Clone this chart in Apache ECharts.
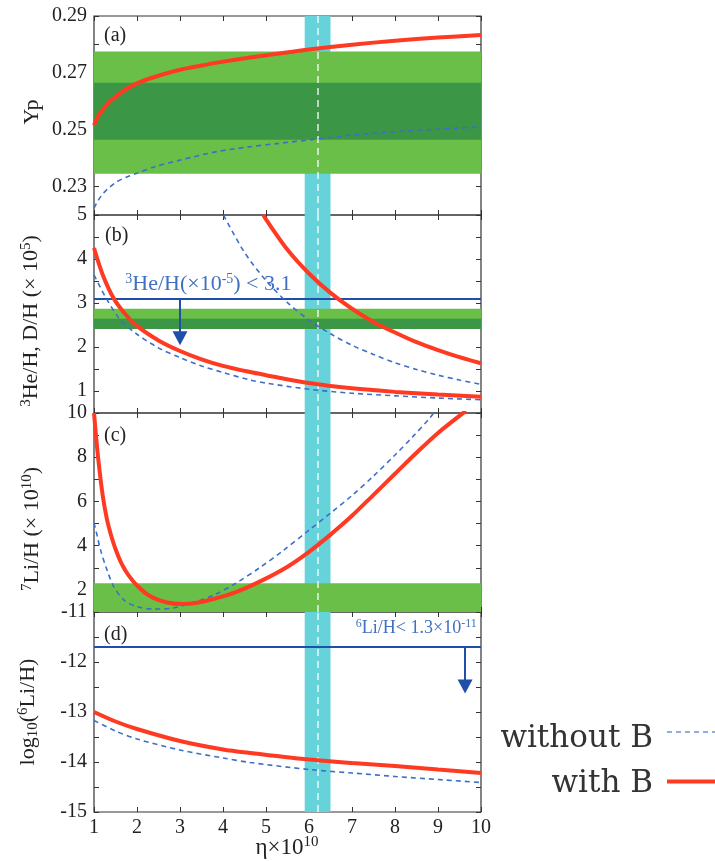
<!DOCTYPE html>
<html>
<head>
<meta charset="utf-8">
<title>BBN</title>
<script src="https://cdn.jsdelivr.net/npm/echarts@6/dist/echarts.min.js"></script>
<style>
html, body {margin: 0; padding: 0; background: #fff;}
#Main {width: 715px; height: 861px;}
</style>
</head>
<body>
<div id="Main"></div>
<script>
// 横轴 η×10^10
var etaMin = 1, etaMax = 10;
var etaBand = [5.9, 6.5];   // 青色观测带
var etaCenter = 6.2;

// (a) Yp
var etaYpB = [1, 1.05, 1.12, 1.22, 1.38, 1.69, 2, 2.46, 3, 3.5, 3.86, 4.63, 5.3, 6, 7, 8, 9, 10];
var ypWithB = [0.2516, 0.2534, 0.2553, 0.2574, 0.2600, 0.2637, 0.2663, 0.2688, 0.2711, 0.2726, 0.2736, 0.2754, 0.2768, 0.2782, 0.2799, 0.2813, 0.2824, 0.2833];
var etaYp = [1, 1.1, 1.22, 1.35, 1.53, 1.75, 2, 2.46, 3, 3.86, 4.63, 5.3, 6, 7, 8, 9, 10];
var ypNoB = [0.2224, 0.2252, 0.2277, 0.2296, 0.2317, 0.2333, 0.2347, 0.2372, 0.2393, 0.2423, 0.2440, 0.2452, 0.2464, 0.2481, 0.2493, 0.2502, 0.2510];
var ypBandOuter = [0.2345, 0.2775];
var ypBandInner = [0.2465, 0.2665];
var ypLabels = ['0.23', '0.25', '0.27', '0.29'];

// (b) 3He/H, D/H
var etaDhB = [4.94, 5, 5.5, 6, 6.5, 7, 7.5, 8, 8.5, 9, 9.5, 10];
var dhWithB = [5, 4.9, 4.21, 3.67, 3.23, 2.87, 2.57, 2.33, 2.11, 1.93, 1.77, 1.63];
var etaDh = [4.01, 4.5, 5, 5.5, 6, 6.5, 7, 7.5, 8, 8.5, 9, 9.5, 10];
var dhNoB = [5, 4.15, 3.51, 3.01, 2.61, 2.30, 2.04, 1.83, 1.64, 1.49, 1.36, 1.25, 1.15];
var etaHeB = [1, 1.2, 1.46, 1.7, 2, 2.5, 3, 3.5, 4, 4.63, 5, 6, 7, 8, 9, 10];
var heWithB = [4.25, 3.65, 3.1, 2.78, 2.48, 2.15, 1.91, 1.72, 1.57, 1.43, 1.36, 1.18, 1.06, 0.98, 0.92, 0.87];
var etaHe = [1, 1.15, 1.3, 1.61, 2, 2.5, 3, 3.5, 4, 4.63, 5, 6, 7, 8, 9, 10];
var heNoB = [3.64, 3.35, 3.08, 2.62, 2.29, 1.98, 1.76, 1.57, 1.42, 1.25, 1.18, 1.04, 0.95, 0.89, 0.84, 0.80];
var dhBandOuter = [2.41, 2.87];
var dhBandInner = [2.41, 2.64];
var heLimit = 3.1;
var heArrow = [3, 2.2];      // 箭头位置 [eta, 终点]
var heText = [3.66, 3.42];
var dhLabels = [1, 2, 3, 4, 5];

// (c) 7Li/H
var etaLiB = [1, 1.05, 1.1, 1.2, 1.3, 1.4, 1.5, 1.65, 1.8, 2, 2.3, 2.7, 3.05, 3.4, 3.8, 4.3, 4.9, 5.5, 6, 6.5, 7, 7.5, 8, 8.5, 9, 9.65];
var liWithB = [10, 8.9, 7.9, 6.3, 5.2, 4.45, 3.85, 3.15, 2.67, 2.2, 1.72, 1.43, 1.36, 1.42, 1.6, 1.9, 2.42, 3.05, 3.72, 4.5, 5.35, 6.3, 7.25, 8.2, 9.1, 10.1];
var etaLi = [1, 1.08, 1.15, 1.3, 1.46, 1.69, 2, 2.4, 2.8, 3.25, 3.8, 4.3, 4.85, 5.4, 6, 6.5, 7, 7.5, 8, 8.4, 8.8, 8.9];
var liNoB = [5.03, 4.4, 3.82, 2.91, 2.15, 1.55, 1.24, 1.13, 1.17, 1.39, 1.78, 2.3, 3.0, 3.78, 4.7, 5.47, 6.27, 7.15, 8.1, 8.9, 9.75, 10.0];
var liBand = [1, 2.3];
var liLabels = [2, 4, 6, 8, 10];

// (d) log10(6Li/H)
var etaLi6 = [1, 1.5, 2, 3, 4, 4.63, 6, 7, 8, 9, 10];
var li6WithB = [-13.0, -13.19, -13.34, -13.58, -13.75, -13.82, -13.95, -14.02, -14.08, -14.15, -14.22];
var li6NoB = [-13.17, -13.38, -13.54, -13.76, -13.92, -14.01, -14.15, -14.22, -14.29, -14.35, -14.41];
var li6Limit = -11.7;
var li6Arrow = [9.63, -12.49];
var li6Text = [9.9, -11.33];
var li6Labels = [-15, -14, -13, -12, -11];

var red = '#ff3a22', blue = '#3d6fc8', lineBlue = '#1f4fa8', textBlue = '#3f6fc2';
var serif = 'Liberation Serif';
var supRich = {
	sup: {fontSize: 15, fontFamily: serif, verticalAlign: 'top', lineHeight: 14},
	sub: {fontSize: 15, fontFamily: serif, verticalAlign: 'bottom', lineHeight: 14}
};

function zip(xs, ys) {
	var arr = [];
	for (var i = 0; i < xs.length; i++) {
		arr.push([xs[i], ys[i]]);
	}
	return arr;
}

// 四个面板的位置
var panels = [
	{top: 16, height: 199, min: 0.22, max: 0.29, interval: 0.01},
	{top: 215, height: 198, min: 0.5, max: 5, interval: 0.5},
	{top: 413, height: 199, min: 1, max: 10, interval: 1},
	{top: 612, height: 200, min: -15, max: -11, interval: 0.5}
];
var labelFns = [
	function(v) { var s = v.toFixed(2); return ypLabels.indexOf(s) >= 0 ? s : ''; },
	function(v) { var r = Math.round(v); return (Math.abs(v - r) < 1e-6 && dhLabels.indexOf(r) >= 0) ? String(r) : ''; },
	function(v) { var r = Math.round(v); return (Math.abs(v - r) < 1e-6 && liLabels.indexOf(r) >= 0) ? String(r) : ''; },
	function(v) { var r = Math.round(v); return (Math.abs(v - r) < 1e-6 && li6Labels.indexOf(r) >= 0) ? String(r) : ''; }
];

var grid = [], xAxis = [], yAxis = [], series = [];
var tickStyle = {show: true, inside: true, length: 5, lineStyle: {color: '#333', width: 1}};

for (var i = 0; i < panels.length; i++) {
	var p = panels[i];
	grid.push({left: 94, top: p.top, width: 387, height: p.height, show: true, borderColor: '#333', borderWidth: 1.2, backgroundColor: 'transparent'});
	xAxis.push({
		type: 'value', gridIndex: i, position: 'bottom', min: etaMin, max: etaMax, interval: 1,
		axisLine: {show: false}, splitLine: {show: false}, axisTick: tickStyle,
		axisLabel: {show: i === 3, margin: 6, color: '#222', fontFamily: serif, fontSize: 20}
	});
	xAxis.push({
		type: 'value', gridIndex: i, position: 'top', min: etaMin, max: etaMax, interval: 1,
		axisLine: {show: false}, splitLine: {show: false}, axisTick: tickStyle, axisLabel: {show: false}
	});
	yAxis.push({
		type: 'value', gridIndex: i, position: 'left', min: p.min, max: p.max, interval: p.interval,
		axisLine: {show: false}, splitLine: {show: false}, axisTick: tickStyle,
		axisLabel: {margin: 7, color: '#222', fontFamily: serif, fontSize: 20, formatter: labelFns[i]}
	});
	yAxis.push({
		type: 'value', gridIndex: i, position: 'right', min: p.min, max: p.max, interval: p.interval,
		axisLine: {show: false}, splitLine: {show: false}, axisTick: tickStyle, axisLabel: {show: false}
	});
	// 青色带 + 白色虚线
	series.push({
		type: 'line', xAxisIndex: 2 * i, yAxisIndex: 2 * i, data: [], z: 3, silent: true,
		markArea: {silent: true, itemStyle: {color: '#66d3da', opacity: 1}, data: [[{xAxis: etaBand[0]}, {xAxis: etaBand[1]}]]},
		markLine: {silent: true, symbol: 'none', label: {show: false},
			lineStyle: {color: 'rgba(255,255,255,0.85)', width: 1.5, type: [7, 5]},
			data: [{xAxis: etaCenter}]}
	});
}

// 绿色观测带
function bandSeries(gi, areas) {
	return {
		type: 'line', xAxisIndex: 2 * gi, yAxisIndex: 2 * gi, data: [], z: 2, silent: true,
		markArea: {silent: true, data: areas}
	};
}
var light = {color: '#6abf48', opacity: 1}, dark = {color: '#3b9645', opacity: 1};
series.push(bandSeries(0, [
	[{yAxis: ypBandOuter[0], itemStyle: light}, {yAxis: ypBandOuter[1]}],
	[{yAxis: ypBandInner[0], itemStyle: dark}, {yAxis: ypBandInner[1]}]
]));
series.push(bandSeries(1, [
	[{yAxis: dhBandOuter[0], itemStyle: light}, {yAxis: dhBandOuter[1]}],
	[{yAxis: dhBandInner[0], itemStyle: dark}, {yAxis: dhBandInner[1]}]
]));
series.push(bandSeries(2, [
	[{yAxis: liBand[0], itemStyle: light}, {yAxis: liBand[1]}]
]));

// 曲线
function curve(name, gi, xs, ys, withB) {
	return {
		name: name, type: 'line', xAxisIndex: 2 * gi, yAxisIndex: 2 * gi,
		data: zip(xs, ys), showSymbol: false, smooth: 0.3, z: withB ? 6 : 5, silent: true,
		lineStyle: withB ? {color: red, width: 4} : {color: blue, width: 1.6, type: [5, 4]}
	};
}
series.push(curve('without B', 0, etaYp, ypNoB, false));
series.push(curve('with B', 0, etaYpB, ypWithB, true));
series.push(curve('without B', 1, etaDh, dhNoB, false));
series.push(curve('without B', 1, etaHe, heNoB, false));
series.push(curve('with B', 1, etaDhB, dhWithB, true));
series.push(curve('with B', 1, etaHeB, heWithB, true));
series.push(curve('without B', 2, etaLi, liNoB, false));
series.push(curve('with B', 2, etaLiB, liWithB, true));
series.push(curve('without B', 3, etaLi6, li6NoB, false));
series.push(curve('with B', 3, etaLi6, li6WithB, true));

// 上限线 + 箭头
function limitSeries(gi, limit, arrow, textPos, text, pos, fs, sfs) {
	return {
		type: 'line', xAxisIndex: 2 * gi, yAxisIndex: 2 * gi, data: [], z: 7, silent: true,
		markLine: {
			silent: true, label: {show: false},
			lineStyle: {color: lineBlue, width: 2, type: 'solid'},
			data: [
				[{coord: [etaMin, limit], symbol: 'none'}, {coord: [etaMax, limit], symbol: 'none'}],
				[{coord: [arrow[0], limit], symbol: 'none'}, {coord: [arrow[0], arrow[1]], symbol: 'triangle', symbolSize: [15, 14]}]
			]
		},
		markPoint: {
			silent: true, symbolSize: 0,
			label: {show: true, position: pos, distance: 0, color: textBlue, fontFamily: serif, fontSize: fs, lineHeight: fs + 3, rich: {
				sup: {fontSize: sfs, fontFamily: serif, color: textBlue, verticalAlign: 'top', lineHeight: sfs - 1}
			}, formatter: text},
			data: [{coord: textPos}]
		}
	};
}
series.push(limitSeries(1, heLimit, heArrow, heText, '{sup|3}He/H(×10{sup|-5}) < 3.1', 'inside', 22, 14));
series.push(limitSeries(3, li6Limit, li6Arrow, li6Text, '{sup|6}Li/H< 1.3×10{sup|-11}', 'left', 18, 12));

// 文字
function txt(x, y, text, opt) {
	var style = {text: text, x: 0, y: 0, fill: '#222', fontFamily: serif, fontSize: 20, lineHeight: 25, align: 'center', verticalAlign: 'middle', rich: supRich};
	for (var k in opt) style[k] = opt[k];
	return {type: 'text', x: x, y: y, rotation: style.rot || 0, style: style, silent: true, z: 10};
}
var graphic = [
	txt(104, 36, '(a)', {align: 'left'}),
	txt(105, 236, '(b)', {align: 'left'}),
	txt(104, 436, '(c)', {align: 'left'}),
	txt(104, 635, '(d)', {align: 'left'}),
	txt(32, 112, 'Yp', {rot: Math.PI / 2, fontSize: 22}),
	txt(31, 321, '{sup|3}He/H, D/H (× 10{sup|5})', {rot: Math.PI / 2, fontSize: 22}),
	txt(32, 529, '{sup|7}Li/H (× 10{sup|10})', {rot: Math.PI / 2, fontSize: 22}),
	txt(28, 712, 'log{sub|10}({sup|6}Li/H)', {rot: Math.PI / 2, fontSize: 22}),
	txt(287, 848, 'η×10{sup|10}', {fontSize: 23, lineHeight: 27}),
	// 图例
	txt(653, 739, 'without B', {align: 'right', fontFamily: 'DejaVu Serif', fontSize: 31, lineHeight: 34, fill: '#333'}),
	txt(653, 784, 'with B', {align: 'right', fontFamily: 'DejaVu Serif', fontSize: 31, lineHeight: 34, fill: '#333'}),
	{type: 'line', shape: {x1: 667, y1: 732, x2: 716, y2: 732}, style: {stroke: '#6b93d8', lineWidth: 1.6, lineDash: [5, 4]}, silent: true},
	{type: 'line', shape: {x1: 667, y1: 781.5, x2: 716, y2: 781.5}, style: {stroke: red, lineWidth: 4}, silent: true}
];

var myChart = echarts.init(document.getElementById('Main'));
myChart.setOption({
	animation: false,
	backgroundColor: '#fff',
	grid: grid,
	xAxis: xAxis,
	yAxis: yAxis,
	series: series,
	graphic: graphic
});
</script>
</body>
</html>
